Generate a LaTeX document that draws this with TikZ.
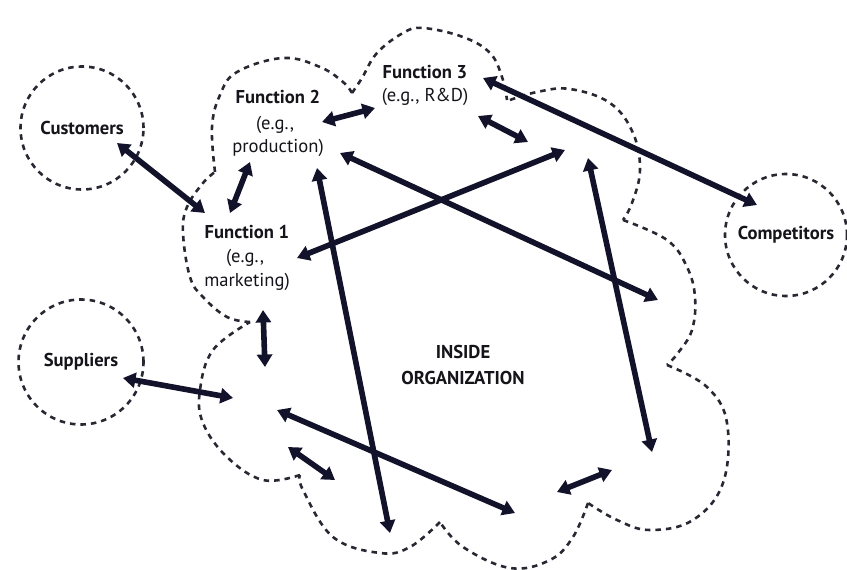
\documentclass[tikz,border=0pt]{standalone}
\usepackage{fontspec}
\setmainfont{PT Sans}
\usetikzlibrary{arrows.meta}
\definecolor{ink}{RGB}{18,18,42}
\definecolor{dashink}{RGB}{40,40,50}
\definecolor{txt}{RGB}{20,20,26}
\begin{document}
\begin{tikzpicture}[x=1pt,y=-1pt,
  outline/.style={draw=dashink, line width=2.6pt, dash pattern=on 5.5pt off 5pt},
  bump/.style={outline, smooth, tension=0.65},
  link/.style={draw=ink, line width=5.6pt,
    {Triangle[length=12.5pt,width=15pt]}-{Triangle[length=12.5pt,width=15pt]}},
  title/.style={font=\bfseries\fontsize{18.6}{22}\selectfont, text=txt, inner sep=0pt},
  sub/.style={font=\fontsize{18.6}{22}\selectfont, text=txt, inner sep=0pt},
  party/.style={outline, circle, inner sep=0pt, font=\bfseries\fontsize{18.6}{22}\selectfont, text=txt}]

\useasboundingbox (0,0) rectangle (847,570);

% outside parties
\node[party, minimum size=123pt] (cust) at (82,128) {Customers};
\node[party, minimum size=125pt] (supp) at (81,362) {Suppliers};
\node[party, minimum size=122pt] (comp) at (786,235) {Competitors};

% the organization: a cloud made of dashed bumps meeting at cusps
\draw[bump] plot coordinates {(215,172) (212,127) (220,95) (237,72) (283,58) (320,67) (343,82) (352,93)};
\draw[bump] plot coordinates {(352,93) (362,78) (377,53) (403,33) (423,28) (463,37) (490,53) (502,77) (507,100)};
\draw[bump] plot coordinates {(510,100) (537,92) (570,89) (610,103) (633,133) (640,170) (632,203) (623,220)};
\draw[bump] plot coordinates {(623,220) (667,240) (687,267) (695,297) (692,330) (678,353) (667,365)};
\draw[bump] plot coordinates {(667,365) (707,387) (727,423) (723,483) (693,520) (650,530) (617,520) (588,503)};
\draw[bump] plot coordinates {(588,503) (573,537) (550,560) (510,568) (463,547) (440,522)};
\draw[bump] plot coordinates {(440,522) (410,547) (380,553) (333,537) (303,490) (300,475)};
\draw[bump] plot coordinates {(300,475) (263,480) (227,457) (203,423) (200,390) (213,350) (250,322)};
\draw[bump] plot coordinates {(250,322) (227,317) (203,297) (190,277) (183,233) (187,207) (203,183) (215,172)};

% functions inside the organization
\node[title] (f1) at (247,232) {Function 1};
\node[sub] (f1a) at (245,258) {(e.g.,};
\node[sub] (f1b) at (247,282) {marketing)};
\node[title] (f2) at (278,97) {Function 2};
\node[sub] (f2a) at (275,125) {(e.g.,};
\node[sub] (f2b) at (278,148) {production)};
\node[title] (f3) at (425,72) {Function 3};
\node[sub] (f3a) at (425,97) {(e.g., R\&D)};
\node[title] (in1) at (463,352) {INSIDE};
\node[title] (in2) at (463,378) {ORGANIZATION};

% arrow end points
\coordinate (c1) at (117,143);  \coordinate (c2) at (205,213);
\coordinate (d1) at (250,162);  \coordinate (d2) at (230,213);
\coordinate (e1) at (322,122);  \coordinate (e2) at (375,108);
\coordinate (g1) at (483,78);   \coordinate (g2) at (757,205);
\coordinate (h1) at (478,116);  \coordinate (h2) at (528,142);
\coordinate (k1) at (297,258);  \coordinate (k2) at (565,150);
\coordinate (m1) at (340,153);  \coordinate (m2) at (658,300);
\coordinate (n1) at (317,168);  \coordinate (n2) at (390,533);
\coordinate (p1) at (588,158);  \coordinate (p2) at (652,452);
\coordinate (q1) at (263,310);  \coordinate (q2) at (265,367);
\coordinate (s1) at (123,378);  \coordinate (s2) at (233,398);
\coordinate (t1) at (277,410);  \coordinate (t2) at (515,513);
\coordinate (u1) at (288,447);  \coordinate (u2) at (335,480);
\coordinate (v1) at (557,492);  \coordinate (v2) at (612,470);

% two-way interactions
\draw[link] (c1) -- (c2);
\draw[link] (d1) -- (d2);
\draw[link] (e1) -- (e2);
\draw[link] (g1) -- (g2);
\draw[link] (h1) -- (h2);
\draw[link] (k1) -- (k2);
\draw[link] (m1) -- (m2);
\draw[link] (n1) -- (n2);
\draw[link] (p1) -- (p2);
\draw[link] (q1) -- (q2);
\draw[link] (s1) -- (s2);
\draw[link] (t1) -- (t2);
\draw[link] (u1) -- (u2);
\draw[link] (v1) -- (v2);
\end{tikzpicture}
\end{document}
